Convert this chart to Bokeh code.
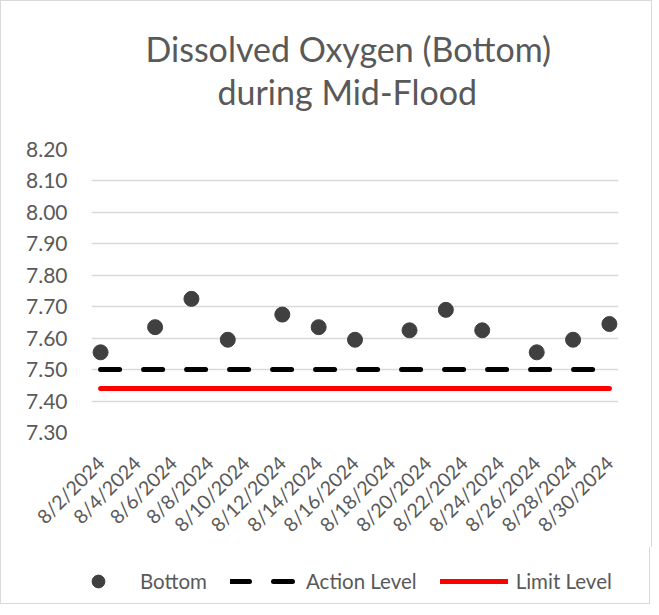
import pandas as pd
from math import pi
from bokeh.plotting import figure
from bokeh.layouts import column
from bokeh.models import (Range1d, FixedTicker, CustomJSTickFormatter, NumeralTickFormatter,
                          Legend, LegendItem, Title, ColumnDataSource)
from bokeh.embed import file_html
from bokeh.resources import INLINE

# ---------------- data ----------------
sample_dates = ["2024-08-02", "2024-08-05", "2024-08-07", "2024-08-09", "2024-08-12",
                "2024-08-14", "2024-08-16", "2024-08-19", "2024-08-21", "2024-08-23",
                "2024-08-26", "2024-08-28", "2024-08-30"]
bottom_do = [7.555, 7.635, 7.725, 7.595, 7.675, 7.635, 7.595, 7.625, 7.690, 7.625,
             7.555, 7.595, 7.645]
action_level = 7.50
limit_level = 7.44
tick_dates = ["2024-08-02", "2024-08-04", "2024-08-06", "2024-08-08", "2024-08-10",
              "2024-08-12", "2024-08-14", "2024-08-16", "2024-08-18", "2024-08-20",
              "2024-08-22", "2024-08-24", "2024-08-26", "2024-08-28", "2024-08-30"]
y_ticks = [7.30, 7.40, 7.50, 7.60, 7.70, 7.80, 7.90, 8.00, 8.10, 8.20]
title_lines = ["Dissolved Oxygen (Bottom)", "during Mid-Flood"]
series_names = ["Bottom", "Action Level", "Limit Level"]

FONT = "Lato"
TXT = "#595959"
W = 650
BORDER = "1px solid #d9d9d9"

# styles (shared by chart and legend)
DOT = dict(size=15, fill_color="#404040", line_color="#404040")
ACT = dict(line_color="black", line_width=5, line_cap="round", line_dash="19 24")
LIM = dict(line_color="#ff0000", line_width=5, line_cap="round")


def blank_fig(height, **kw):
    f = figure(width=W, height=height, title=None, output_backend="svg", toolbar_location=None,
               x_range=Range1d(0, 1), y_range=Range1d(0, 1),
               x_axis_location=None, y_axis_location=None, **kw)
    f.outline_line_color = None
    f.background_fill_color = "white"
    f.border_fill_color = "white"
    for g in f.grid:
        g.visible = False
    return f


x = pd.to_datetime(sample_dates)
src = ColumnDataSource(dict(
    x=x,
    y=bottom_do,
    action=[action_level] * len(x),
    limit=[limit_level] * len(x),
))

# ---------------- title block ----------------
tfig = blank_fig(128, min_border_left=0, min_border_right=0, min_border_top=110,
                 min_border_bottom=0)
tfig.add_layout(Title(text=title_lines[1], align="left", offset=126, text_font=FONT,
                      text_font_size="34px", text_font_style="normal", text_color=TXT,
                      standoff=0), "above")
tfig.add_layout(Title(text=title_lines[0], align="left", offset=54, text_font=FONT,
                      text_font_size="34px", text_font_style="normal", text_color=TXT,
                      standoff=0), "above")

# ---------------- main chart ----------------
half_day = pd.Timedelta(hours=12)
p = figure(width=W, height=418, x_axis_type="datetime", title=None,
           output_backend="svg", toolbar_location=None,
           x_range=Range1d(x.min() - half_day, x.max() + half_day),
           y_range=Range1d(min(y_ticks), max(y_ticks)),
           min_border_left=90, min_border_right=33, min_border_top=20, min_border_bottom=10)
p.outline_line_color = None
p.background_fill_color = "white"
p.border_fill_color = "white"

p.line("x", "limit", source=src, **LIM)
p.line("x", "action", source=src, **ACT)
p.scatter("x", "y", source=src, **DOT)

tick_ms = [pd.Timestamp(d).value // 10**6 for d in tick_dates]
xa = p.xaxis[0]
xa.ticker = FixedTicker(ticks=tick_ms)
xa.formatter = CustomJSTickFormatter(code="""
const d = new Date(tick);
return (d.getUTCMonth() + 1) + '/' + d.getUTCDate() + '/' + d.getUTCFullYear();
""")
xa.major_label_orientation = pi / 4
ya = p.yaxis[0]
ya.ticker = FixedTicker(ticks=y_ticks)
ya.formatter = NumeralTickFormatter(format="0.00")
for ax in (xa, ya):
    ax.axis_line_color = None
    ax.major_tick_line_color = None
    ax.minor_tick_line_color = None
    ax.major_label_text_font = FONT
    ax.major_label_text_color = TXT
ya.major_label_text_font_size = "21px"
xa.major_label_text_font_size = "19.5px"
ya.major_label_standoff = 18
xa.major_label_standoff = 21

p.xgrid.visible = False
p.ygrid.ticker = FixedTicker(ticks=y_ticks)
p.ygrid.grid_line_color = "#d9d9d9"
p.ygrid.grid_line_width = 1.5

top_block = column(tfig, p, spacing=0,
                   styles={"border": BORDER, "border-bottom": "none"})

# ---------------- legend block (separate root, own frame) ----------------
lfig = blank_fig(57, min_border_left=0, min_border_right=0, min_border_top=0,
                 min_border_bottom=0)
lfig.styles = {"border": BORDER, "border-top": "none"}
lg_bot = lfig.scatter("x", "y", source=src, **DOT)
lg_act = lfig.line("x", "action", source=src, **ACT)
lg_lim = lfig.line("x", "limit", source=src, **LIM)
legend = Legend(items=[LegendItem(label=series_names[0], renderers=[lg_bot]),
                       LegendItem(label=series_names[1], renderers=[lg_act]),
                       LegendItem(label=series_names[2], renderers=[lg_lim])],
                orientation="horizontal", location=(63, 7),
                glyph_width=68, glyph_height=32, label_standoff=8, spacing=23,
                padding=0, margin=0, border_line_color=None, background_fill_alpha=0,
                label_text_font=FONT, label_text_font_size="20.5px", label_text_color=TXT)
lfig.add_layout(legend)

open("out.html", "w").write(file_html([top_block, lfig], INLINE))
